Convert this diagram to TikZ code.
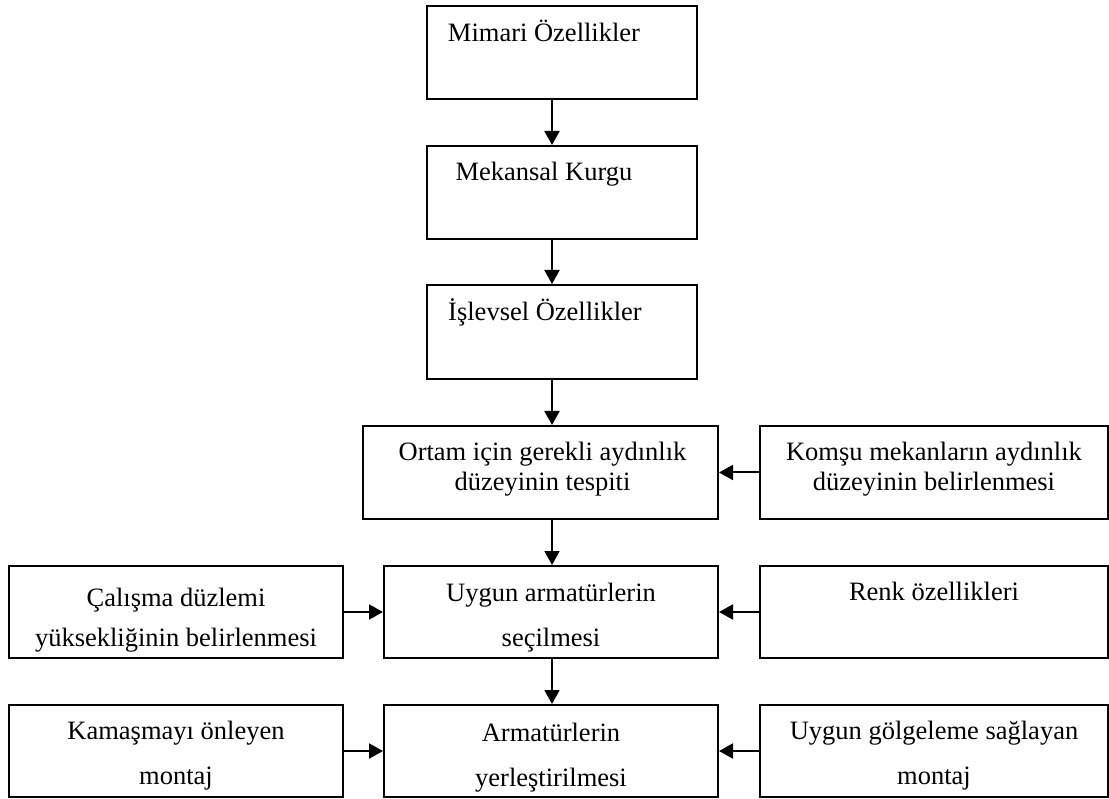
\documentclass[tikz,border=0pt]{standalone}
\usepackage{fontspec}
\setmainfont{Liberation Serif}
\usepackage{tikz}
\usetikzlibrary{arrows.meta}

\tikzset{
  box/.style={draw, line width=2pt, minimum height=93pt, inner sep=0pt},
  txt/.style={anchor=base, align=center, inner sep=0pt, font=\fontsize{26.5}{45}\selectfont},
  arr/.style={line width=2pt, -{Triangle[length=14pt,width=15pt]}}
}

\begin{document}
\begin{tikzpicture}[x=1pt, y=-1pt]
\useasboundingbox (0,0) rectangle (1109,799);
\coordinate (spine) at (552,0);
\node [box, minimum width=270pt, label={[txt, xshift=-18pt, yshift=-37pt]north:{Mimari Özellikler}}] (mimari) at (562,52.5) {};
\node [box, minimum width=270pt, label={[txt, xshift=-18pt, yshift=-36pt]north:{Mekansal Kurgu}}] (mekan) at (562,192.5) {};
\node [box, minimum width=270pt, minimum height=94pt, label={[txt, xshift=-17pt, yshift=-37pt]north:{İşlevsel Özellikler}}] (islev) at (562,332) {};
\node [box, minimum width=355pt, label={[txt, font=\fontsize{26.5}{29}\selectfont, xshift=2pt, yshift=-65pt]north:{Ortam için gerekli aydınlık\\düzeyinin tespiti}}] (ortam) at (540.5,472.5) {};
\node [box, minimum width=348pt, label={[txt, font=\fontsize{26.5}{29}\selectfont, yshift=-65pt]north:{Komşu mekanların aydınlık\\düzeyinin belirlenmesi}}] (komsu) at (934,472.5) {};
\node [box, minimum width=334pt, minimum height=92pt, label={[txt, font=\fontsize{26.5}{40}\selectfont, yshift=-81pt]north:{Çalışma düzlemi\\yüksekliğinin belirlenmesi}}] (calisma) at (176,612) {};
\node [box, minimum width=334pt, minimum height=92pt, label={[txt, yshift=-81pt]north:{Uygun armatürlerin\\seçilmesi}}] (uygun) at (551,612) {};
\node [box, minimum width=348pt, minimum height=92pt, label={[txt, yshift=-35pt]north:{Renk özellikleri}}] (renk) at (934,612) {};
\node [box, minimum width=334pt, minimum height=92pt, label={[txt, yshift=-80pt]north:{Kamaşmayı önleyen\\montaj}}] (kamas) at (176,751) {};
\node [box, minimum width=334pt, minimum height=92pt, label={[txt, yshift=-82pt]north:{Armatürlerin\\yerleştirilmesi}}] (armat) at (551,751) {};
\node [box, minimum width=348pt, minimum height=92pt, label={[txt, yshift=-80pt]north:{Uygun gölgeleme sağlayan\\montaj}}] (golge) at (934,751) {};
\draw [arr] (mimari.south -| spine) -- (mekan.north -| spine);
\draw [arr] (mekan.south -| spine) -- (islev.north -| spine);
\draw [arr] (islev.south -| spine) -- (ortam.north -| spine);
\draw [arr] (ortam.south -| spine) -- (uygun.north -| spine);
\draw [arr] (uygun.south -| spine) -- (armat.north -| spine);
\draw [arr] (komsu.west) -- (ortam.east);
\draw [arr] (calisma.east) -- (uygun.west);
\draw [arr] (renk.west) -- (uygun.east);
\draw [arr] (kamas.east) -- (armat.west);
\draw [arr] (golge.west) -- (armat.east);
\end{tikzpicture}
\end{document}
